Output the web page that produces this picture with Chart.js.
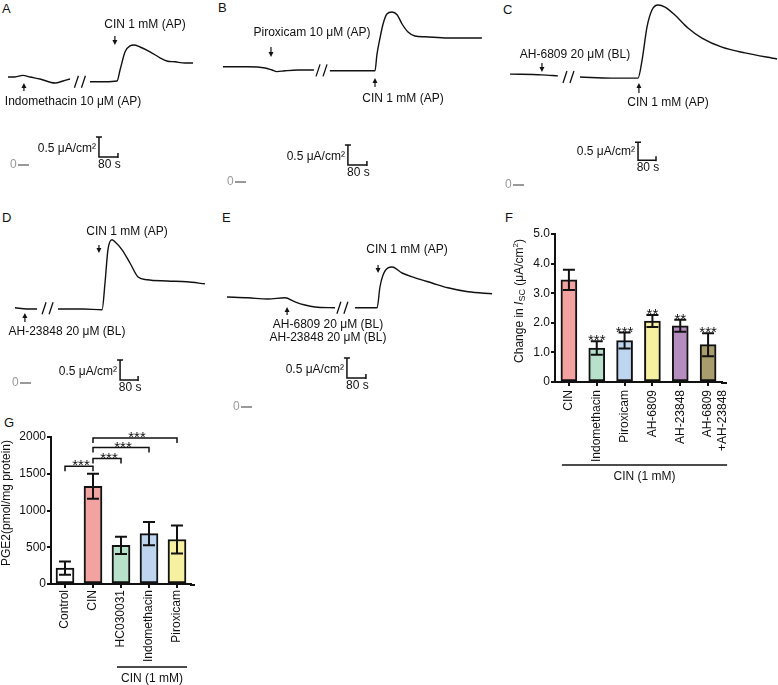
<!DOCTYPE html>
<html>
<head>
<meta charset="utf-8">
<script src="https://cdn.jsdelivr.net/npm/chart.js@4.4.0/dist/chart.umd.min.js"></script>
<style>
  body { margin: 0; background: #fff; width: 778px; height: 685px; position: relative; overflow: hidden;
         font-family: "Liberation Sans", Arial, sans-serif; }
  canvas { position: absolute; }
  .lbl { position: absolute; font-size: 13px; line-height: 13px; color: #111; }
</style>
</head>
<body>
<div class="lbl" style="left:2px;top:2px">A</div>
<div class="lbl" style="left:218px;top:1px">B</div>
<div class="lbl" style="left:503px;top:3px">C</div>
<div class="lbl" style="left:2px;top:211px">D</div>
<div class="lbl" style="left:222px;top:211px">E</div>
<div class="lbl" style="left:505px;top:211px">F</div>
<div class="lbl" style="left:4px;top:416px">G</div>

<canvas id="cA"></canvas>
<canvas id="cB"></canvas>
<canvas id="cC"></canvas>
<canvas id="cD"></canvas>
<canvas id="cE"></canvas>
<canvas id="cF"></canvas>
<canvas id="cG"></canvas>

<script>
// Isc traces: time in s, current in µA/cm² (null = cut in the recording)
const aTime = [0, 29, 63, 93, 135, 198, 232, 261, 305, 345, 408, 459, 472, 493, 514, 530, 556, 598, 640, 669, 703, 745, 779];
const aIsc = [2.20, 2.20, 2.24, 2.20, 2.15, 2.05, 2.10, 2.15, null, 2.08, 2.08, 2.10, 2.38, 2.83, 2.98, 3.00, 2.95, 2.83, 2.68, 2.60, 2.58, 2.55, 2.55];

const bTime = [0, 105, 177, 206, 227, 261, 316, 383, 417, 450, 535, 640, 648, 661, 674, 690, 712, 733, 754, 779, 808, 850, 947, 1019, 1090];
const bIsc = [2.88, 2.88, 2.85, 2.80, 2.76, 2.78, 2.80, 2.80, null, 2.78, 2.78, 2.78, 3.18, 3.60, 3.95, 4.20, 4.25, 4.18, 3.95, 3.75, 3.65, 3.63, 3.60, 3.60, 3.60];

const cTime = [0, 142, 213, 262, 311, 453, 569, 587, 609, 631, 658, 689, 733, 791, 853, 942, 1044, 1187];
const cIsc = [3.08, 3.06, 3.03, null, 3.00, 2.97, 2.97, 3.47, 4.39, 4.86, 5.00, 4.94, 4.72, 4.36, 4.08, 3.83, 3.67, 3.50];

const dTime = [0, 53, 98, 147, 191, 302, 387, 400, 413, 431, 444, 476, 511, 547, 587, 676, 764, 844];
const dIsc = [1.88, 1.85, 1.85, null, 1.85, 1.85, 1.83, 2.50, 3.33, 3.58, 3.53, 3.33, 3.00, 2.65, 2.58, 2.55, 2.53, 2.48];

const eTime = [0, 88, 173, 244, 286, 328, 371, 455, 488, 539, 632, 644, 657, 678, 695, 737, 792, 863, 930, 1015, 1116];
const eIsc = [2.75, 2.73, 2.70, 2.73, 2.63, 2.55, 2.50, 2.48, null, 2.48, 2.48, 3.00, 3.30, 3.48, 3.50, 3.35, 3.23, 3.10, 2.98, 2.88, 2.83];

// panel F
const fLabels = ['CIN', 'Indomethacin', 'Piroxicam', 'AH-6809', 'AH-23848', ['AH-6809', '+AH-23848']];
const fMeans = [3.45, 1.15, 1.40, 2.06, 1.90, 1.26];
const fErr = [0.34, 0.23, 0.27, 0.20, 0.20, 0.39];
const fStars = ['', '***', '***', '**', '**', '***'];
const fTicks = [0, 1, 2, 3, 4, 5];
const fTickLabels = ['0', '1.0', '2.0', '3.0', '4.0', '5.0'];

// panel G
const gLabels = ['Control', 'CIN', 'HC030031', 'Indomethacin', 'Piroxicam'];
const gMeans = [215, 1330, 525, 685, 605];
const gErr = [90, 170, 118, 157, 190];
const gTicks = [0, 500, 1000, 1500, 2000];
const gTickLabels = ['0', '500', '1000', '1500', '2000'];
const gPairs = [[0, 1], [1, 2], [1, 3], [1, 4]];
const gPairLevels = [1603, 1707, 1856, 1986];

const FAM = '"Liberation Sans", Arial, sans-serif';
Chart.defaults.font.family = FAM;
Chart.defaults.font.size = 12;
Chart.defaults.color = '#111';

// layout of the trace panels (page pixels) and their annotations
const traces = [
  { id: 'cA', box: [0, 0, 215, 205], time: aTime, isc: aIsc, x0: 8, y0: 165, s: 0.2375, k: 40,
    arrows: [
      { t: 67, tail: 91, head: 83, text: ['Indomethacin 10 μM (AP)'], tx: 73, ty: 102 },
      { t: 450, tail: 36, head: 45, text: ['CIN 1 mM (AP)'], tx: 145, ty: 25 }
    ],
    brk: { t: 305, i: 2.08 }, bar: { t: 383, i: 0.2 }, zeroX: 10 },
  { id: 'cB', box: [215, 0, 280, 205], time: bTime, isc: bIsc, x0: 223, y0: 182, s: 0.2375, k: 40,
    arrows: [
      { t: 202, tail: 47, head: 57, text: ['Piroxicam 10 μM (AP)'], tx: 312, ty: 33 },
      { t: 640, tail: 87, head: 78, text: ['CIN 1 mM (AP)'], tx: 403, ty: 99 }
    ],
    brk: { t: 417, i: 2.79 }, bar: { t: 526, i: 0.425 }, zeroX: 227 },
  { id: 'cC', box: [495, 0, 283, 205], time: cTime, isc: cIsc, x0: 510, y0: 185, s: 0.225, k: 36,
    arrows: [
      { t: 142, tail: 63, head: 72, text: ['AH-6809 20 μM (BL)'], tx: 575, ty: 55 },
      { t: 573, tail: 93, head: 83, text: ['CIN 1 mM (AP)'], tx: 668, ty: 103 }
    ],
    brk: { t: 262, i: 3.0 }, bar: { t: 569, i: 0.69 }, zeroX: 505 },
  { id: 'cD', box: [0, 205, 215, 210], time: dTime, isc: dIsc, x0: 15, y0: 383, s: 0.225, k: 40,
    arrows: [
      { t: 44, tail: 322, head: 313, text: ['AH-23848 20 μM (BL)'], tx: 67, ty: 332 },
      { t: 373, tail: 245, head: 253, text: ['CIN 1 mM (AP)'], tx: 127, ty: 232 }
    ],
    brk: { t: 147, i: 1.87 }, bar: { t: 467, i: 0.075 }, zeroX: 12 },
  { id: 'cE', box: [215, 205, 280, 210], time: eTime, isc: eIsc, x0: 227, y0: 407, s: 0.2375, k: 40,
    arrows: [
      { t: 253, tail: 315, head: 307, text: ['AH-6809 20 μM (BL)', 'AH-23848 20 μM (BL)'], tx: 328, ty: 325 },
      { t: 636, tail: 265, head: 273, text: ['CIN 1 mM (AP)'], tx: 407, ty: 250 }
    ],
    brk: { t: 488, i: 2.48 }, bar: { t: 505, i: 0.725 }, zeroX: 233 }
];

const bars = [
  { id: 'cF', box: [495, 205, 283, 290], labels: fLabels, means: fMeans, err: fErr, stars: fStars,
    ticks: fTicks, tickLabels: fTickLabels, yMax: 5,
    colors: ['#F3A2A2', '#B7E1CA', '#BDD5EE', '#F5F1A0', '#B58CBE', '#A99E6B'],
    yW: 60, padTop: 29, padRight: 56, xH: 113, xPad: 4, barW: 16, axisExt: 5,
    group: { from: 0, to: 5, lineY: 465, textY: 477, left: 7, right: 19 },
    title: { x: 25, y: 96 } },
  { id: 'cG', box: [0, 410, 330, 275], labels: gLabels, means: gMeans, err: gErr, stars: null,
    ticks: gTicks, tickLabels: gTickLabels, yMax: 2000,
    colors: ['#FFFFFF', '#F3A2A2', '#B7E1CA', '#BDD5EE', '#F5F1A0'],
    yW: 51, padTop: 27, padRight: 139, xH: 101, xPad: 2, barW: 18, axisExt: 4,
    group: { from: 2, to: 4, lineY: 667, textY: 679, left: 4, right: 10 },
    title: { x: 7, y: 93, text: 'PGE2(pmol/mg protein)' } }
];

function place(cv, box) {
  cv.width = box[2]; cv.height = box[3];
  cv.style.left = box[0] + 'px'; cv.style.top = box[1] + 'px';
  cv.style.width = box[2] + 'px'; cv.style.height = box[3] + 'px';
}

function arrow(ctx, x, y1, y2) {
  const d = Math.sign(y2 - y1);
  ctx.lineWidth = 1.2;
  ctx.beginPath(); ctx.moveTo(x, y1); ctx.lineTo(x, y2 - d * 3); ctx.stroke();
  ctx.beginPath(); ctx.moveTo(x, y2); ctx.lineTo(x - 2.5, y2 - d * 5); ctx.lineTo(x + 2.5, y2 - d * 5);
  ctx.closePath(); ctx.fill();
}

// arrows, labels, break marks, scale bars and zero level on the traces
const traceDeco = {
  id: 'traceDeco',
  afterDatasetsDraw(chart, args, opts) {
    const p = traces[opts.panel];
    const ctx = chart.ctx, xs = chart.scales.x, ys = chart.scales.y;
    const ox = p.box[0], oy = p.box[1];
    ctx.save();
    ctx.fillStyle = '#111'; ctx.strokeStyle = '#111';
    ctx.font = '12px ' + FAM;
    ctx.textAlign = 'center'; ctx.textBaseline = 'middle';
    p.arrows.forEach(a => {
      const x = xs.getPixelForValue(a.t);
      arrow(ctx, x, a.tail - oy, a.head - oy);
      a.text.forEach((s, i) => ctx.fillText(s, a.tx - ox, a.ty - oy + i * 12.5));
    });

    // "//" cut
    const bx = xs.getPixelForValue(p.brk.t), by = ys.getPixelForValue(p.brk.i);
    ctx.lineWidth = 1.3;
    ctx.beginPath();
    ctx.moveTo(bx - 6, by + 6); ctx.lineTo(bx - 2, by - 6);
    ctx.moveTo(bx + 1, by + 6); ctx.lineTo(bx + 5, by - 6);
    ctx.stroke();

    // scale bar 0.5 µA/cm² x 80 s
    const sx = xs.getPixelForValue(p.bar.t), sy = ys.getPixelForValue(p.bar.i);
    const sx2 = xs.getPixelForValue(p.bar.t + 80), sy2 = ys.getPixelForValue(p.bar.i + 0.5);
    ctx.lineWidth = 1.5;
    ctx.beginPath();
    ctx.moveTo(sx, sy2); ctx.lineTo(sx, sy); ctx.lineTo(sx2, sy);
    ctx.moveTo(sx - 3, sy2); ctx.lineTo(sx + 3, sy2);
    ctx.moveTo(sx2, sy - 4); ctx.lineTo(sx2, sy + 1);
    ctx.stroke();
    ctx.textAlign = 'right';
    ctx.fillText('0.5 μA/cm²', sx - 3, sy - 8);
    ctx.textAlign = 'center';
    ctx.fillText('80 s', (sx + sx2) / 2 + 1, sy + 8);

    // zero current level
    const zy = ys.getPixelForValue(0), zx = p.zeroX - ox;
    ctx.fillStyle = '#999'; ctx.textAlign = 'left';
    ctx.fillText('0', zx, zy);
    ctx.strokeStyle = '#555'; ctx.lineWidth = 1.2;
    ctx.beginPath(); ctx.moveTo(zx + 8, zy); ctx.lineTo(zx + 19, zy); ctx.stroke();
    ctx.restore();
  }
};

function richTitle(ctx, cx, cy) {
  const parts = [
    { t: 'Change in ', f: '12px ' + FAM, dy: 0 },
    { t: 'I', f: 'italic 12px ' + FAM, dy: 0 },
    { t: 'SC', f: '9px ' + FAM, dy: 3 },
    { t: ' (μA/cm', f: '12px ' + FAM, dy: 0 },
    { t: '2', f: '8px ' + FAM, dy: -4 },
    { t: ')', f: '12px ' + FAM, dy: 0 }
  ];
  ctx.save();
  ctx.translate(cx, cy); ctx.rotate(-Math.PI / 2);
  let w = 0;
  parts.forEach(p => { ctx.font = p.f; p.w = ctx.measureText(p.t).width; w += p.w; });
  let x = -w / 2;
  ctx.textAlign = 'left'; ctx.textBaseline = 'middle';
  parts.forEach(p => { ctx.font = p.f; ctx.fillText(p.t, x, p.dy); x += p.w; });
  ctx.restore();
}

// error bars, significance marks, group label and y title on the bar panels
const barDeco = {
  id: 'barDeco',
  afterDatasetsDraw(chart, args, opts) {
    const b = bars[opts.panel];
    const ctx = chart.ctx, ys = chart.scales.y, area = chart.chartArea;
    const meta = chart.getDatasetMeta(0);
    const oy = b.box[1];
    ctx.save();
    ctx.strokeStyle = '#111'; ctx.fillStyle = '#111';
    ctx.lineWidth = 2;
    ctx.beginPath(); ctx.moveTo(area.right - 1, area.bottom + 1); ctx.lineTo(area.right + b.axisExt, area.bottom + 1); ctx.stroke();

    ctx.font = '15px ' + FAM;
    ctx.textAlign = 'center'; ctx.textBaseline = 'alphabetic';
    b.means.forEach((m, i) => {
      const x = meta.data[i].x;
      const yt = ys.getPixelForValue(m + b.err[i]), yb = ys.getPixelForValue(m - b.err[i]);
      ctx.beginPath();
      ctx.moveTo(x, yt); ctx.lineTo(x, yb);
      ctx.moveTo(x - 6, yt); ctx.lineTo(x + 6, yt);
      ctx.moveTo(x - 6, yb); ctx.lineTo(x + 6, yb);
      ctx.stroke();
      if (b.stars && b.stars[i]) ctx.fillText(b.stars[i], x, yt + 4);
    });

    if (b === bars[1]) {
      ctx.lineWidth = 1.5;
      gPairs.forEach((pr, j) => {
        const x1 = meta.data[pr[0]].x, x2 = meta.data[pr[1]].x;
        const y = ys.getPixelForValue(gPairLevels[j]);
        ctx.beginPath();
        ctx.moveTo(x1, y + 5); ctx.lineTo(x1, y); ctx.lineTo(x2, y); ctx.lineTo(x2, y + 5);
        ctx.stroke();
        ctx.fillText('***', (x1 + x2) / 2 + 2, y + 4);
      });
    }

    // "CIN (1 mM)" group
    const g = b.group;
    const gx1 = meta.data[g.from].x - g.left, gx2 = meta.data[g.to].x + g.right;
    ctx.lineWidth = 1.5;
    ctx.beginPath(); ctx.moveTo(gx1, g.lineY - oy); ctx.lineTo(gx2, g.lineY - oy); ctx.stroke();
    ctx.font = '12px ' + FAM; ctx.textBaseline = 'middle';
    ctx.fillText('CIN (1 mM)', (gx1 + gx2) / 2, g.textY - oy);

    // y title
    if (b.title.text) {
      ctx.save();
      ctx.translate(b.title.x, b.title.y); ctx.rotate(-Math.PI / 2);
      ctx.fillText(b.title.text, 0, 0);
      ctx.restore();
    } else {
      richTitle(ctx, b.title.x, b.title.y);
    }
    ctx.restore();
  }
};

traces.forEach((p, n) => {
  const cv = document.getElementById(p.id);
  place(cv, p.box);
  const W = p.box[2], H = p.box[3];
  const xMin = -(p.x0 - p.box[0]) / p.s;
  const yMax = (p.y0 - p.box[1]) / p.k;
  new Chart(cv, {
    type: 'line',
    data: {
      datasets: [{
        data: p.time.map((t, i) => ({ x: t, y: p.isc[i] })),
        borderColor: '#111',
        borderWidth: 1.4,
        pointRadius: 0,
        cubicInterpolationMode: 'monotone',
        spanGaps: false
      }]
    },
    options: {
      responsive: false,
      animation: false,
      events: [],
      layout: { padding: 0 },
      plugins: { legend: { display: false }, tooltip: { enabled: false }, traceDeco: { panel: n } },
      scales: {
        x: { type: 'linear', display: false, min: xMin, max: xMin + W / p.s },
        y: { display: false, min: yMax - H / p.k, max: yMax }
      }
    },
    plugins: [traceDeco]
  });
});

bars.forEach((b, n) => {
  const cv = document.getElementById(b.id);
  place(cv, b.box);
  const axisGrid = { display: true, offset: false, drawOnChartArea: false, drawTicks: true, tickLength: 4, color: '#111', lineWidth: 2 };
  const axisBorder = { display: true, color: '#111', width: 2 };
  new Chart(cv, {
    type: 'bar',
    data: {
      labels: b.labels,
      datasets: [{
        data: b.means,
        backgroundColor: b.colors,
        borderColor: '#111',
        borderWidth: 2,
        borderSkipped: false,
        barThickness: b.barW
      }]
    },
    options: {
      responsive: false,
      animation: false,
      events: [],
      layout: { padding: { left: 0, top: b.padTop, right: b.padRight, bottom: 0 } },
      plugins: { legend: { display: false }, tooltip: { enabled: false }, barDeco: { panel: n } },
      scales: {
        x: {
          offset: true,
          grid: axisGrid,
          border: axisBorder,
          ticks: { autoSkip: false, minRotation: 90, maxRotation: 90, padding: b.xPad, color: '#111', font: { size: 12 } },
          afterFit(s) { s.height = b.xH; }
        },
        y: {
          min: 0, max: b.yMax,
          grid: axisGrid,
          border: axisBorder,
          afterBuildTicks(s) { s.ticks = b.ticks.map(v => ({ value: v })); },
          ticks: { padding: 1, color: '#111', font: { size: 12 }, callback: (v, i) => b.tickLabels[i] },
          afterFit(s) { s.width = b.yW; }
        }
      }
    },
    plugins: [barDeco]
  });
});
</script>
</body>
</html>
